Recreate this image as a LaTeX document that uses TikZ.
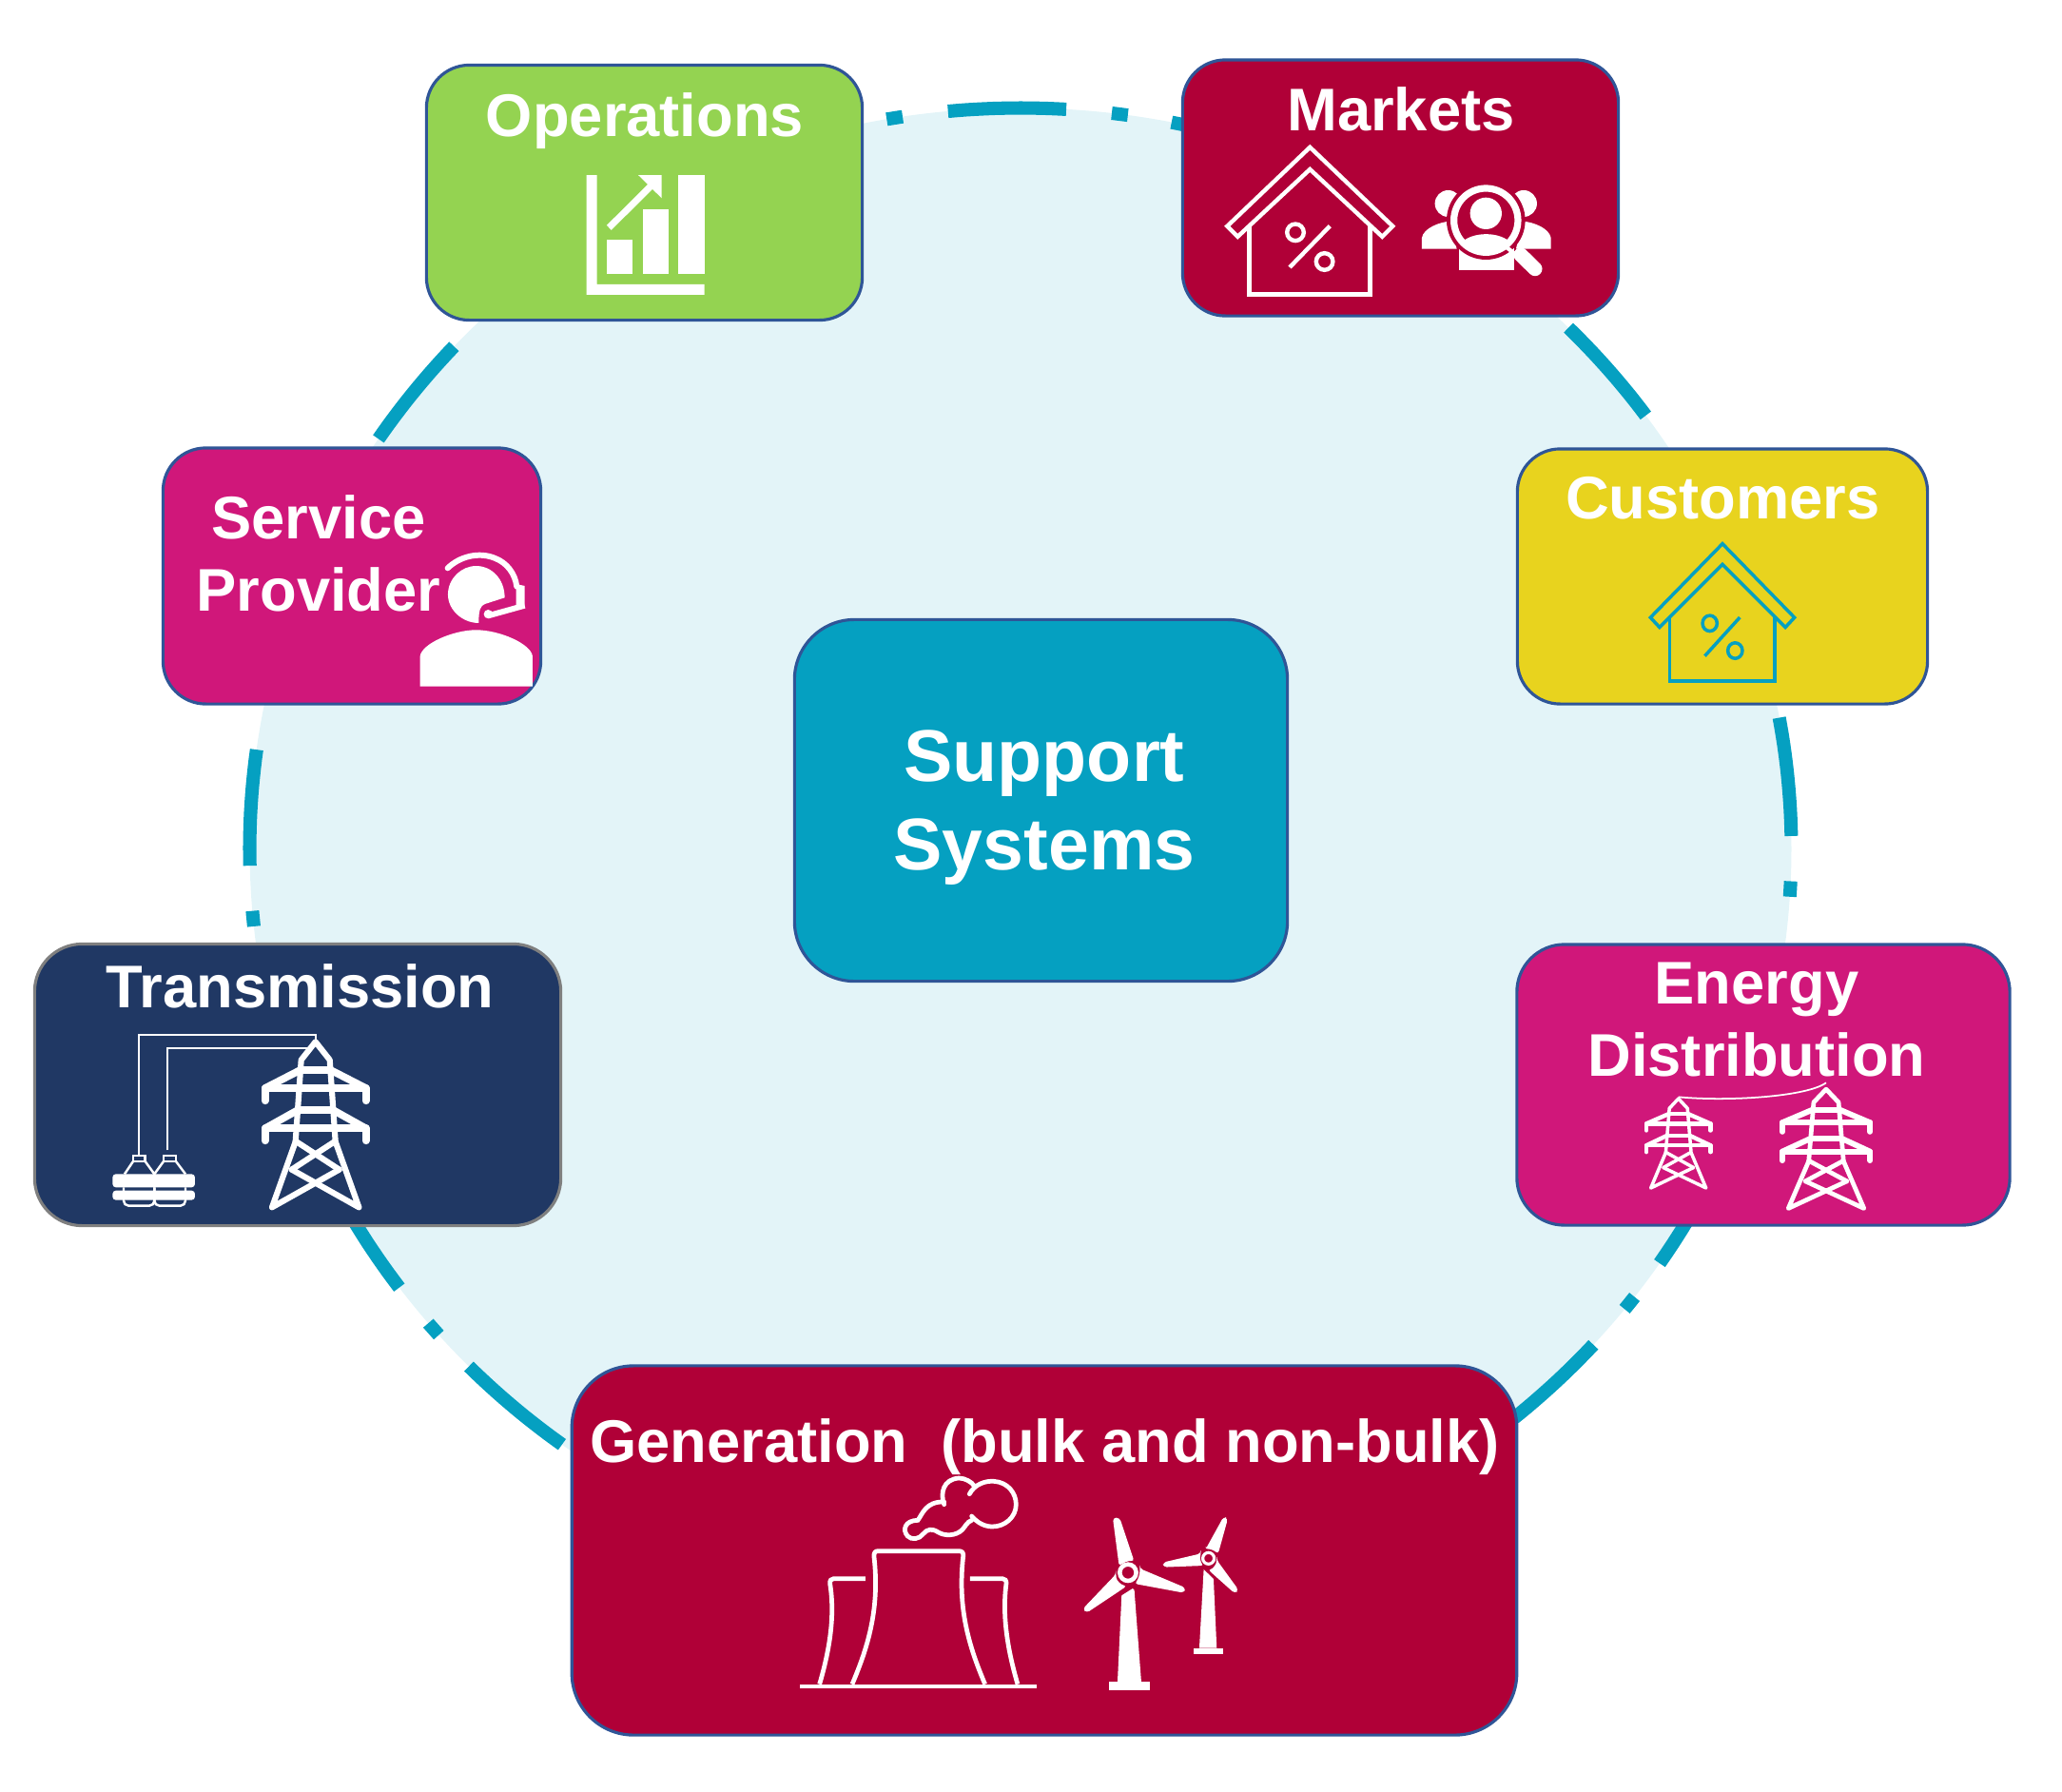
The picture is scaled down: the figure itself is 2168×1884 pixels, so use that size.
\documentclass[tikz,border=0pt]{standalone}
\usepackage{fontspec}
\setmainfont{Liberation Sans}
\definecolor{cDisc}{HTML}{E3F4F8}
\definecolor{cRing}{HTML}{05A0C1}
\definecolor{cEdge}{HTML}{2F5597}
\definecolor{cGrey}{HTML}{7F7F7F}
\definecolor{cGreen}{HTML}{94D351}
\definecolor{cWine}{HTML}{B00037}
\definecolor{cYellow}{HTML}{E8D31E}
\definecolor{cPink}{HTML}{D0177A}
\definecolor{cNavy}{HTML}{203864}
\newcommand{\ringDash}[2]{\draw[ringdash] plot[domain=#1:#2,samples=14] ({1073+810.5*cos(\x)},{892.5-779*sin(\x)});}
\newcommand{\drawHouse}[6]{%
    \begin{scope}[shift={(#1,#2)},xscale=#3,yscale=#4,draw=#5,line width=#6,line join=miter]
        \draw (0,2.5) -- (87,85.5) -- (76,96.5) -- (0,25.7) -- (-76,96.5) -- (-87,85.5) -- cycle;
        \draw (-63.7,85) -- (-63.7,157) -- (63.3,157) -- (63.3,85);
        \draw (-15.3,92) circle (8.8);
        \draw (15.3,122.7) circle (8.8);
        \draw (21,85.3) -- (-21.3,128.7);
    \end{scope}}
\newcommand{\drawTower}[5]{%
    \begin{scope}[shift={(#1,#2)},xscale=#3,yscale=#4,draw=white,line width=#5,line cap=round,line join=round]
        \draw (-21,108) -- (-15,22) -- (0,3) -- (15,22) -- (21,108);
        \draw (-21,108) -- (-45.7,177) -- (25,137.3);
        \draw (21,108) -- (45.7,177) -- (-25,137.3);
        \draw (-20,108) -- (25,137.3);
        \draw (20,108) -- (-25,137.3);
        \draw[line width=1.25*#5] (-15,32.7) -- (15,32.7);
        \draw[line width=1.25*#5] (-18,75) -- (18,75);
        \draw[line width=1.25*#5] (-53,65) -- (-53,51.7) -- (53,51.7) -- (53,65);
        \draw[line width=1.25*#5] (-53,51.7) -- (-16,32.7);
        \draw[line width=1.25*#5] (53,51.7) -- (16,32.7);
        \draw[line width=1.25*#5] (-53,107) -- (-53,94) -- (53,94) -- (53,107);
        \draw[line width=1.25*#5] (-53,94) -- (-19,75);
        \draw[line width=1.25*#5] (53,94) -- (19,75);
    \end{scope}}
\tikzset{
    ringdash/.style={cRing,line width=4pt},
    tile/.style={draw=cEdge,line width=0.9pt,inner sep=0pt,outer sep=0pt},
    title/.style={white,font=\fontsize{18}{21.6}\selectfont\bfseries,inner sep=0pt,align=center},
    thin white/.style={white,line width=0.5pt},
}
\begin{document}
\begin{tikzpicture}[x=0.01cm,y=-0.01cm]
    \useasboundingbox (0,0) rectangle (2168,1884);
    % --- --- --- Disc and ring
    \fill[cDisc] (1073,892.5) ellipse [x radius=810.5,y radius=779];
    \ringDash{98.8}{100}
    \ringDash{86.6}{95.4}
    \ringDash{82}{83.2}
    \ringDash{70}{78.7}
    \ringDash{35.8}{44.7}
    \ringDash{1}{10.2}
    \ringDash{-3.7}{-2.5}
    \ringDash{-34}{-28}
    \ringDash{-38.4}{-37.2}
    \ringDash{-52}{-42}
    \ringDash{-135.7}{-126.5}
    \ringDash{-140.2}{-139}
    \ringDash{-153}{-143.7}
    \ringDash{-175.2}{-174}
    \ringDash{172.3}{181.3}
    \ringDash{137.3}{146.4}
    % --- --- --- Tiles
    \node[tile,fill=cGreen,minimum width=4.58cm,minimum height=2.68cm,rounded corners=0.45cm] (operations) at (677.5,202.5) {};
    \node[tile,fill=cWine,minimum width=4.58cm,minimum height=2.69cm,rounded corners=0.45cm] (markets) at (1472.5,197.5) {};
    \node[tile,fill=cYellow,minimum width=4.31cm,minimum height=2.68cm,rounded corners=0.45cm] (customers) at (1811,606) {};
    \node[tile,fill=cPink,minimum width=3.97cm,minimum height=2.69cm,rounded corners=0.45cm] (service) at (370,605.5) {};
    \node[tile,draw=cGrey,fill=cNavy,minimum width=5.53cm,minimum height=2.96cm,rounded corners=0.5cm] (transmission) at (313,1140.5) {};
    \node[tile,fill=cPink,minimum width=5.18cm,minimum height=2.95cm,rounded corners=0.5cm] (distribution) at (1854,1140.5) {};
    \node[tile,fill=cWine,minimum width=9.93cm,minimum height=3.88cm,rounded corners=0.65cm] (generation) at (1098,1630) {};
    \node[tile,fill=cRing,minimum width=5.18cm,minimum height=3.80cm,rounded corners=0.63cm] (support) at (1094.5,841.5) {};
    % --- --- --- Titles
    \node[title,anchor=base] (operationstitle) at (678,143.5) {Operations};
    \node[title,anchor=base] (marketstitle) at (1473,137) {Markets};
    \node[title,anchor=base] (customerstitle) at (1811.5,545) {Customers};
    \node[title,anchor=center] (servicetitle) at (335,581.5) {Service\\Provider};
    \node[title,anchor=base] (transmissiontitle) at (315.5,1059.5) {Transmission};
    \node[title,anchor=center] (distributiontitle) at (1847,1072) {Energy\\Distribution};
    \node[title,anchor=base] (generationtitle) at (1098.5,1537) {Generation\ \ (bulk and non-bulk)};
    \node[title,anchor=center,font=\fontsize{21.9}{26.3}\selectfont\bfseries] (supporttitle) at (1098,849) {Support\\Systems};
    % --- --- --- Operations chart
    \begin{scope}[shift={(590,160)},scale=0.3333]
        \fill[white] (80,72) -- (113,72) -- (113,417) -- (452,417) -- (452,450) -- (80,450) -- cycle;
        \fill[white] (145,277) rectangle (225,385);
        \fill[white] (258,180) rectangle (339,385);
        \fill[white] (370,72) rectangle (452,385);
        \draw[white,line width=2pt] (151,238) -- (290,100);
        \fill[white] (243,72) -- (317,72) -- (317,145) -- cycle;
    \end{scope}
    % --- --- --- Markets house and people
    \drawHouse{1377.3}{152.3}{1}{1}{white}{1.25pt}
    \begin{scope}[shift={(1230,50)},scale=0.3333]
        % side people
        \fill[white] (878,492) circle (42);
        \fill[white] (1116,492) circle (42);
        \fill[white] (795,635) -- (795,600) .. controls (800,570) and (850,550) .. (885,548) -- (905,635) -- cycle;
        \fill[white] (1202,635) -- (1202,600) .. controls (1197,570) and (1147,550) .. (1112,548) -- (1092,635) -- cycle;
        \fill[white] (912,610) rectangle (1086,703);
        % lens
        \fill[cWine] (997,545) circle (124);
        \fill[white] (997,523) circle (50);
        \begin{scope}
            \clip (997,545) circle (95);
            \fill[white] (915,620) .. controls (950,578) and (1045,578) .. (1080,620) -- (1080,660) -- (915,660) -- cycle;
        \end{scope}
        \draw[white,line width=2.05pt] (997,545) circle (101);
        % handle
        \draw[white,line width=1.2pt] (1062,630) -- (1100,660);
        \draw[white,line width=4.3pt,line cap=round] (1107,654) -- (1152,698);
    \end{scope}
    % --- --- --- Customers house
    \drawHouse{1811}{569.3}{0.87}{0.935}{cRing}{1pt}
    % --- --- --- Service headset
    \begin{scope}[shift={(160,460)},scale=0.3333]
        \fill[white] (1030,585) .. controls (980,585) and (933,545) .. (933,495) .. controls (933,445) and (975,405) .. (1022,405) .. controls (1070,405) and (1112,445) .. (1112,505) -- (1050,525) .. controls (1035,530) and (1030,545) .. (1030,585) -- cycle;
        \draw[white,line width=1.7pt,line cap=round] (932,412) .. controls (970,375) and (1030,360) .. (1080,380) .. controls (1120,395) and (1145,430) .. (1150,470);
        \fill[white] (1148,462) -- (1175,468) -- (1175,530) -- (1148,538) -- cycle;
        \draw[white,line width=1.7pt] (1175,530) -- (1060,562);
        \fill[white] (1060,557) circle (14);
        \fill[white] (845,785) -- (845,690) .. controls (850,650) and (950,607) .. (1022,607) .. controls (1095,607) and (1195,650) .. (1200,690) -- (1200,785) -- cycle;
    \end{scope}
    % --- --- --- Transmission tower and bottles
    \drawTower{331.7}{1092.3}{1}{1}{1.75pt}
    \begin{scope}[shift={(100,1080)},scale=0.3333]
        \draw[thin white] (137,402) -- (137,25) -- (695,25) -- (695,40);
        \draw[thin white] (229,388) -- (229,67) -- (670,67);
        \fill[white,rounded corners=1pt] (55,463) rectangle (315,505);
        \fill[white,rounded corners=1pt] (55,515) rectangle (315,545);
        \draw[white,line width=0.7pt] (120,405) rectangle (158,423);
        \draw[white,line width=0.7pt] (216,405) rectangle (255,423);
        \draw[white,line width=0.7pt] (93,463) -- (120,423);
        \draw[white,line width=0.7pt] (158,423) -- (187,463) -- (216,423);
        \draw[white,line width=0.7pt] (255,423) -- (285,463);
        \draw[white,line width=0.7pt,rounded corners=1.5pt] (90,505) -- (90,563) -- (187,563) -- (187,505);
        \draw[white,line width=0.7pt,rounded corners=1.5pt] (187,505) -- (187,563) -- (285,563) -- (285,505);
    \end{scope}
    % --- --- --- Distribution towers
    \drawTower{1920}{1143}{0.87}{0.72}{1.35pt}
    \drawTower{1764.7}{1153.4}{0.635}{0.54}{1pt}
    \draw[white,line width=0.5pt] (1764.7,1153.3) .. controls (1816.7,1158.3) and (1900,1153) .. (1920,1138.3);
    % --- --- --- Generation plant and turbines
    \begin{scope}[shift={(820,1530)},scale=0.3333]
        \draw[white,line width=1.35pt] (63,729) -- (810,729);
        \draw[white,line width=1.35pt,line join=round] (228,722) .. controls (280,600) and (315,480) .. (297,320) .. controls (296,308) and (300,302) .. (310,302) -- (565,302) .. controls (575,302) and (580,308) .. (578,320) .. controls (560,480) and (595,600) .. (647,722);
        \draw[white,line width=1.35pt] (125,722) .. controls (155,620) and (175,510) .. (158,405) .. controls (157,395) and (162,389) .. (170,389) -- (270,389);
        \draw[white,line width=1.35pt] (750,722) .. controls (720,620) and (700,510) .. (714,405) .. controls (715,395) and (710,389) .. (702,389) -- (600,389);
        % cloud
        \begin{scope}[white,line width=1.35pt,line cap=round]
            \draw (518,155) .. controls (505,120) and (515,75) .. (565,72) .. controls (585,72) and (605,85) .. (612,95);
            \draw (598,122) .. controls (615,90) and (650,80) .. (675,82) .. controls (720,85) and (745,120) .. (745,155) .. controls (745,195) and (710,225) .. (670,225) .. controls (645,225) and (622,212) .. (605,192);
            \draw (605,205) .. controls (590,210) and (585,225) .. (575,235) .. controls (555,255) and (520,255) .. (500,243) .. controls (480,230) and (465,232) .. (452,248) .. controls (440,265) and (415,268) .. (403,255) .. controls (385,235) and (395,205) .. (435,205) .. controls (450,185) and (460,145) .. (518,147);
        \end{scope}
        % large turbine
        \fill[white] (1037,715) rectangle (1167,740);
        \fill[white] (1065,715) -- (1078,442) -- (1113,420) -- (1118,425) -- (1140,715) -- cycle;
        \draw[white,line width=1.3pt] (1098,370) circle (26);
        \fill[white,rounded corners=1pt] (1070,350) -- (1050,197) -- (1072,197) -- (1118,335) .. controls (1100,332) and (1085,338) .. (1070,350) -- cycle;
        \fill[white,rounded corners=1pt] (1135,357) -- (1280,418) -- (1275,434) -- (1118,405) .. controls (1130,392) and (1135,375) .. (1135,357) -- cycle;
        \fill[white,rounded corners=1pt] (1060,375) -- (955,485) -- (968,497) -- (1095,412) .. controls (1075,408) and (1062,395) .. (1060,375) -- cycle;
        % small turbine
        \fill[white] (1305,608) rectangle (1398,627);
        \fill[white] (1323,608) -- (1337,360) -- (1368,390) -- (1378,608) -- cycle;
        \draw[white,line width=0.9pt] (1352,325) circle (18);
        \fill[white,rounded corners=1pt] (1342,298) -- (1400,193) -- (1413,200) -- (1382,312) .. controls (1370,300) and (1355,295) .. (1342,298) -- cycle;
        \fill[white,rounded corners=1pt] (1328,310) -- (1208,338) -- (1210,353) -- (1338,348) .. controls (1328,338) and (1325,325) .. (1328,310) -- cycle;
        \fill[white,rounded corners=1pt] (1378,330) -- (1447,425) -- (1435,436) -- (1350,360) .. controls (1365,358) and (1375,345) .. (1378,330) -- cycle;
    \end{scope}
\end{tikzpicture}
\end{document}
